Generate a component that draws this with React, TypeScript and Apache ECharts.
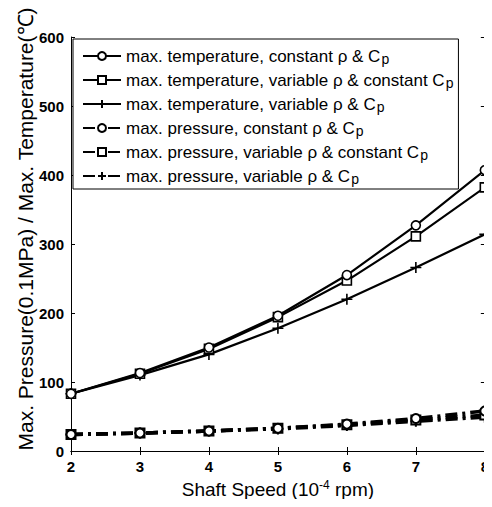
import React, { useEffect, useRef } from "react";
import * as echarts from "echarts";

const speeds = [2, 3, 4, 5, 6, 7, 8];
const tempConst = [83, 113, 150, 196, 255, 327, 407];
const tempVarRho = [83, 112, 148, 194, 247, 311, 382];
const tempVarBoth = [83, 110, 140, 178, 220, 266, 314];
const presConst = [24, 26, 29, 33, 39, 47, 58];
const presVarRho = [24, 26, 29, 33, 38, 45, 52];
const presVarBoth = [24, 26, 29, 32, 37, 43, 49];

const seriesNames = [
  "max. temperature, constant ρ & C{sub|p}",
  "max. temperature, variable ρ & constant C{sub|p}",
  "max. temperature, variable ρ & C{sub|p}",
  "max. pressure, constant ρ & C{sub|p}",
  "max. pressure, variable ρ & constant C{sub|p}",
  "max. pressure, variable ρ & C{sub|p}",
];

const yTitle = "Max. Pressure(0.1MPa) / Max. Temperature(℃)";
const xTitle = "Shaft Speed (10{sup|-4} rpm)";

const PLUS = "path://M5,0L5,10M0,5L10,5";

export default function App() {
  const ref = useRef<HTMLDivElement>(null);
  useEffect(() => {
    if (!ref.current) return;
    const chart = echarts.init(ref.current, null, { renderer: "svg" });
    const font = "Liberation Sans, Arial, sans-serif";
    const dataSets = [tempConst, tempVarRho, tempVarBoth, presConst, presVarRho, presVarBoth];
    const symbols = ["circle", "rect", PLUS, "circle", "rect", PLUS];
    const series = dataSets.map((d, i) => ({
      type: "line",
      name: seriesNames[i],
      data: speeds.map((s, j) => [s, d[j]]),
      symbol: symbols[i],
      symbolSize: i % 3 === 2 ? 11 : 9,
      lineStyle: {
        color: "#000",
        width: i < 3 ? 2.2 : 3.5,
        type: i < 3 ? "solid" : [12, 5, 3, 5],
      },
      itemStyle: {
        color: i % 3 === 2 ? "#000" : "#fff",
        borderColor: "#000",
        borderWidth: i < 3 ? 1.6 : 2,
      },
      z: 10 - i,
    }));
    chart.setOption({
      animation: false,
      textStyle: { fontFamily: font },
      grid: { left: 71, right: 3, top: 37, bottom: 56 },
      legend: {
        orient: "vertical",
        left: 73,
        top: 39,
        padding: [3, 5, 3, 9],
        borderColor: "#000",
        borderWidth: 1,
        backgroundColor: "#fff",
        itemWidth: 38,
        itemHeight: 10,
        itemGap: 0,
        textStyle: {
          fontSize: 17,
          lineHeight: 20,
          color: "#000",
          fontFamily: font,
          rich: {
            sub: { fontSize: 14, lineHeight: 20, verticalAlign: "bottom", padding: [10, 0, 0, 1], fontFamily: font },
          },
        },
        data: seriesNames,
      },
      graphic: [
        {
          type: "text",
          x: 25,
          y: 229,
          rotation: Math.PI / 2,
          style: {
            text: yTitle,
            fontSize: 21,
            fontFamily: font,
            fill: "#000",
            align: "center",
            verticalAlign: "middle",
          },
        },
      ],
      xAxis: [
        {
          type: "value",
          min: 2,
          max: 8,
          interval: 1,
          name: xTitle,
          nameLocation: "middle",
          nameGap: 27,
          nameTextStyle: {
            fontSize: 19,
            color: "#000",
            fontFamily: font,
            rich: { sup: { fontSize: 12, padding: [0, 0, 10, 0], fontFamily: font } },
          },
          axisLine: { lineStyle: { color: "#000", width: 1 } },
          axisTick: { inside: true, length: 4, lineStyle: { color: "#000" } },
          axisLabel: { fontSize: 15, color: "#000", fontWeight: "bold", margin: 8 },
          splitLine: { show: false },
        },
        {
          type: "value",
          position: "top",
          min: 2,
          max: 8,
          interval: 1,
          axisLine: { show: true, lineStyle: { color: "#000", width: 1 } },
          axisTick: { inside: true, length: 4, lineStyle: { color: "#000" } },
          axisLabel: { show: false },
          splitLine: { show: false },
        },
      ],
      yAxis: [
        {
          type: "value",
          min: 0,
          max: 600,
          interval: 100,
          axisLine: { show: true, lineStyle: { color: "#000", width: 1 } },
          axisTick: { inside: true, length: 4, lineStyle: { color: "#000" } },
          axisLabel: { fontSize: 15, color: "#000", fontWeight: "bold", margin: 7 },
          splitLine: { show: false },
        },
        {
          type: "value",
          position: "right",
          min: 0,
          max: 600,
          interval: 100,
          axisLine: { show: true, lineStyle: { color: "#000", width: 1 } },
          axisTick: { inside: true, length: 4, lineStyle: { color: "#000" } },
          axisLabel: { show: false },
          splitLine: { show: false },
        },
      ],
      series,
    });
    return () => chart.dispose();
  }, []);
  return <div ref={ref} style={{ width: 492, height: 507, margin: -8 }} />;
}
